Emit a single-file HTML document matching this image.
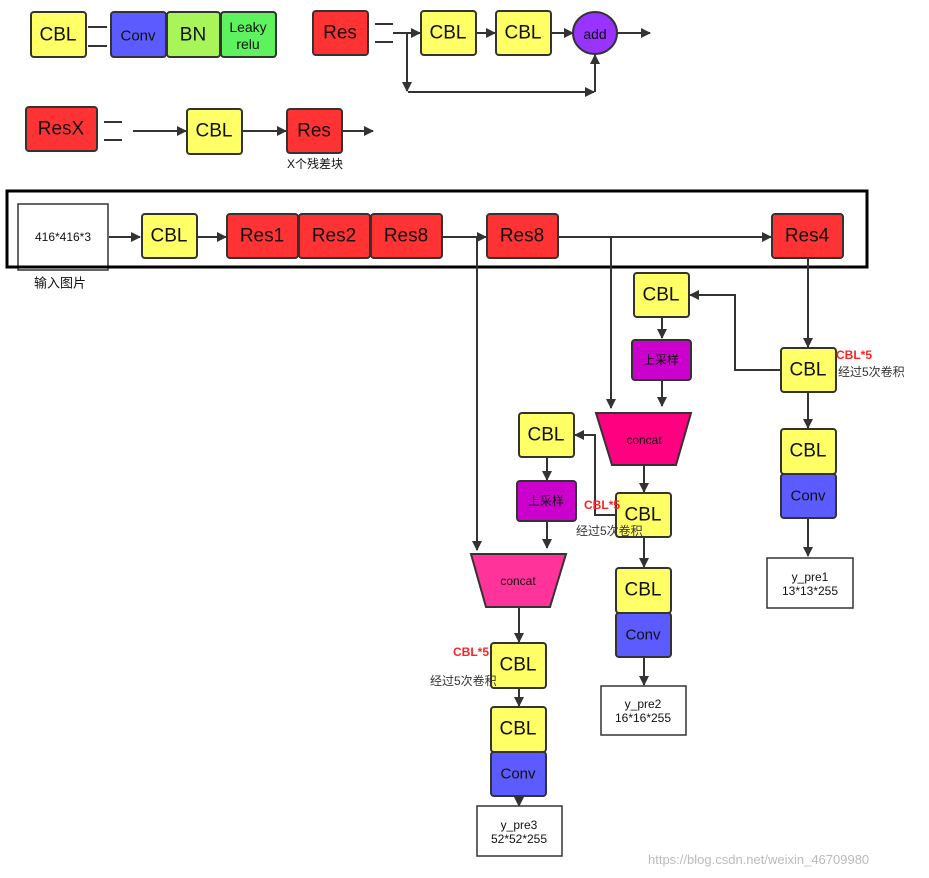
<!DOCTYPE html>
<html><head><meta charset="utf-8"><style>
body{margin:0;background:#fff;}
svg{display:block;font-family:"Liberation Sans","Noto Sans CJK SC",sans-serif;}
.b{stroke:#333;stroke-width:2;}
.t{font-size:19px;fill:#111;text-anchor:middle;dominant-baseline:central;}
.s{font-size:12px;fill:#111;text-anchor:middle;dominant-baseline:central;}
.l{stroke:#333;stroke-width:2;fill:none;}
</style></head><body>
<svg width="929" height="878" viewBox="0 0 929 878" xmlns="http://www.w3.org/2000/svg">
<defs><marker id="a" markerWidth="10" markerHeight="10" refX="9" refY="5" orient="auto" markerUnits="userSpaceOnUse"><path d="M0,0 L10,5 L0,10 z" fill="#333"/></marker></defs>
<g class="b">
<rect x="31" y="12" width="55" height="45" rx="3" fill="#ffff66"/>
<rect x="111" y="12" width="55" height="45" rx="3" fill="#5b5bff"/>
<rect x="167" y="12" width="53" height="45" rx="3" fill="#a8f55a"/>
<rect x="221" y="12" width="55" height="45" rx="3" fill="#5ef25e"/>
<rect x="313" y="11" width="55" height="44" rx="3" fill="#ff3333"/>
<rect x="421" y="11" width="55" height="44" rx="3" fill="#ffff66"/>
<rect x="496" y="11" width="55" height="44" rx="3" fill="#ffff66"/>
<ellipse cx="595" cy="33" rx="22" ry="21" fill="#9933ff"/>
<rect x="26" y="107" width="71" height="44" rx="3" fill="#ff3333"/>
<rect x="187" y="109" width="55" height="45" rx="3" fill="#ffff66"/>
<rect x="287" y="109" width="55" height="44" rx="3" fill="#ff3333"/>
</g>
<g class="l">
<path d="M88 27h19M88 46h19M375 24h18M375 42h18M104 122h18M104 140h18"/>
<path d="M393 33h27" marker-end="url(#a)"/>
<path d="M407 33v58" marker-end="url(#a)"/>
<path d="M408 92h186" marker-end="url(#a)"/>
<path d="M595 92v-37" marker-end="url(#a)"/>
<path d="M476 33h19" marker-end="url(#a)"/>
<path d="M551 33h22" marker-end="url(#a)"/>
<path d="M617 33h33" marker-end="url(#a)"/>
<path d="M133 131h53" marker-end="url(#a)"/>
<path d="M243 131h43" marker-end="url(#a)"/>
<path d="M343 131h30" marker-end="url(#a)"/>
</g>
<text class="t" x="58" y="35">CBL</text>
<text class="s" x="138" y="36" style="font-size:15px">Conv</text>
<text class="t" x="193" y="35">BN</text>
<text class="s" x="248" y="27" style="font-size:14px">Leaky</text>
<text class="s" x="248" y="44" style="font-size:14px">relu</text>
<text class="t" x="340" y="33">Res</text>
<text class="t" x="448" y="33">CBL</text>
<text class="t" x="523" y="33">CBL</text>
<text class="s" x="595" y="34" style="font-size:14px">add</text>
<text class="t" x="61" y="129">ResX</text>
<text class="t" x="214" y="131">CBL</text>
<text class="t" x="314" y="131">Res</text>
<text class="s" x="315" y="164">X个残差块</text>

<!-- main row -->
<rect x="18" y="204" width="90" height="66" fill="#fff" stroke="#333" stroke-width="1.5"/>
<rect x="7" y="191" width="860" height="76" fill="none" stroke="#000" stroke-width="3"/>
<text class="s" x="63" y="237">416*416*3</text>
<text class="s" x="60" y="283" style="font-size:13px">输入图片</text>
<g class="b">
<rect x="142" y="214" width="55" height="44" rx="3" fill="#ffff66"/>
<rect x="227" y="214" width="71" height="44" rx="3" fill="#ff3333"/>
<rect x="299" y="214" width="71" height="44" rx="3" fill="#ff3333"/>
<rect x="371" y="214" width="71" height="44" rx="3" fill="#ff3333"/>
<rect x="487" y="214" width="71" height="44" rx="3" fill="#ff3333"/>
<rect x="772" y="214" width="71" height="44" rx="3" fill="#ff3333"/>
</g>
<text class="t" x="169" y="236">CBL</text>
<text class="t" x="262" y="236">Res1</text>
<text class="t" x="334" y="236">Res2</text>
<text class="t" x="406" y="236">Res8</text>
<text class="t" x="522" y="236">Res8</text>
<text class="t" x="807" y="236">Res4</text>
<g class="l">
<path d="M109 237h31" marker-end="url(#a)"/>
<path d="M198 237h28" marker-end="url(#a)"/>
<path d="M443 237h43" marker-end="url(#a)"/>
<path d="M559 237h212" marker-end="url(#a)"/>
<path d="M477 237v313" marker-end="url(#a)"/>
<path d="M611 237v171" marker-end="url(#a)"/>
<path d="M808 258v89" marker-end="url(#a)"/>
<path d="M781 370h-46v-75h-45" marker-end="url(#a)"/>
<path d="M662 317v21" marker-end="url(#a)"/>
<path d="M662 380v26" marker-end="url(#a)"/>
<path d="M808 392v36" marker-end="url(#a)"/>
<path d="M808 518v38" marker-end="url(#a)"/>
<path d="M644 465v27" marker-end="url(#a)"/>
<path d="M616 515h-21v-80h-20" marker-end="url(#a)"/>
<path d="M547 457v23" marker-end="url(#a)"/>
<path d="M547 521v27" marker-end="url(#a)"/>
<path d="M644 537v30" marker-end="url(#a)"/>
<path d="M644 657v28" marker-end="url(#a)"/>
<path d="M519 607v35" marker-end="url(#a)"/>
<path d="M519 688v18" marker-end="url(#a)"/>
<path d="M519 796v10" marker-end="url(#a)"/>
</g>
<g class="b">
<rect x="634" y="273" width="55" height="44" rx="3" fill="#ffff66"/>
<rect x="632" y="340" width="59" height="40" rx="3" fill="#cc00cc"/>
<polygon points="596,413 691,413 676,465 612,465" fill="#ff0080"/>
<rect x="781" y="348" width="55" height="44" rx="3" fill="#ffff66"/>
<rect x="781" y="429" width="55" height="45" rx="3" fill="#ffff66"/>
<rect x="781" y="474" width="55" height="44" rx="3" fill="#5b5bff"/>
<rect x="519" y="413" width="55" height="44" rx="3" fill="#ffff66"/>
<rect x="517" y="481" width="59" height="40" rx="3" fill="#cc00cc"/>
<rect x="616" y="493" width="55" height="44" rx="3" fill="#ffff66"/>
<rect x="616" y="568" width="55" height="45" rx="3" fill="#ffff66"/>
<rect x="616" y="613" width="55" height="44" rx="3" fill="#5b5bff"/>
<polygon points="471,554 566,554 550,607 486,607" fill="#ff3399"/>
<rect x="491" y="643" width="55" height="45" rx="3" fill="#ffff66"/>
<rect x="491" y="707" width="55" height="45" rx="3" fill="#ffff66"/>
<rect x="491" y="752" width="55" height="44" rx="3" fill="#5b5bff"/>
</g>
<g fill="#fff" stroke="#333" stroke-width="1.5">
<rect x="767" y="558" width="86" height="50"/>
<rect x="601" y="686" width="85" height="49"/>
<rect x="477" y="806" width="85" height="50"/>
</g>
<text class="t" x="661" y="295">CBL</text>
<text class="s" x="661" y="360">上采样</text>
<text class="s" x="644" y="440">concat</text>
<text class="t" x="808" y="370">CBL</text>
<text class="t" x="808" y="451">CBL</text>
<text class="s" x="808" y="496" style="font-size:15px">Conv</text>
<text class="s" x="810" y="577">y_pre1</text>
<text class="s" x="810" y="591">13*13*255</text>
<text class="t" x="546" y="435">CBL</text>
<text class="s" x="546" y="501">上采样</text>
<text class="t" x="643" y="515">CBL</text>
<text class="t" x="643" y="590">CBL</text>
<text class="s" x="643" y="635" style="font-size:15px">Conv</text>
<text class="s" x="643" y="704">y_pre2</text>
<text class="s" x="643" y="718">16*16*255</text>
<text class="s" x="518" y="581">concat</text>
<text class="t" x="518" y="665">CBL</text>
<text class="t" x="518" y="729">CBL</text>
<text class="s" x="518" y="774" style="font-size:15px">Conv</text>
<text class="s" x="519" y="825">y_pre3</text>
<text class="s" x="519" y="839">52*52*255</text>
<g style="font-size:12px;font-weight:bold;fill:#ff2222">
<text x="836" y="359">CBL*5</text>
<text x="584" y="509">CBL*5</text>
<text x="453" y="656">CBL*5</text>
</g>
<g style="font-size:12px;fill:#333">
<text x="838" y="376">经过5次卷积</text>
<text x="576" y="535">经过5次卷积</text>
<text x="430" y="685">经过5次卷积</text>
</g>
<text x="648" y="864" style="font-size:13px;fill:#bbb">https://blog.csdn.net/weixin_46709980</text>
</svg>
</body></html>
